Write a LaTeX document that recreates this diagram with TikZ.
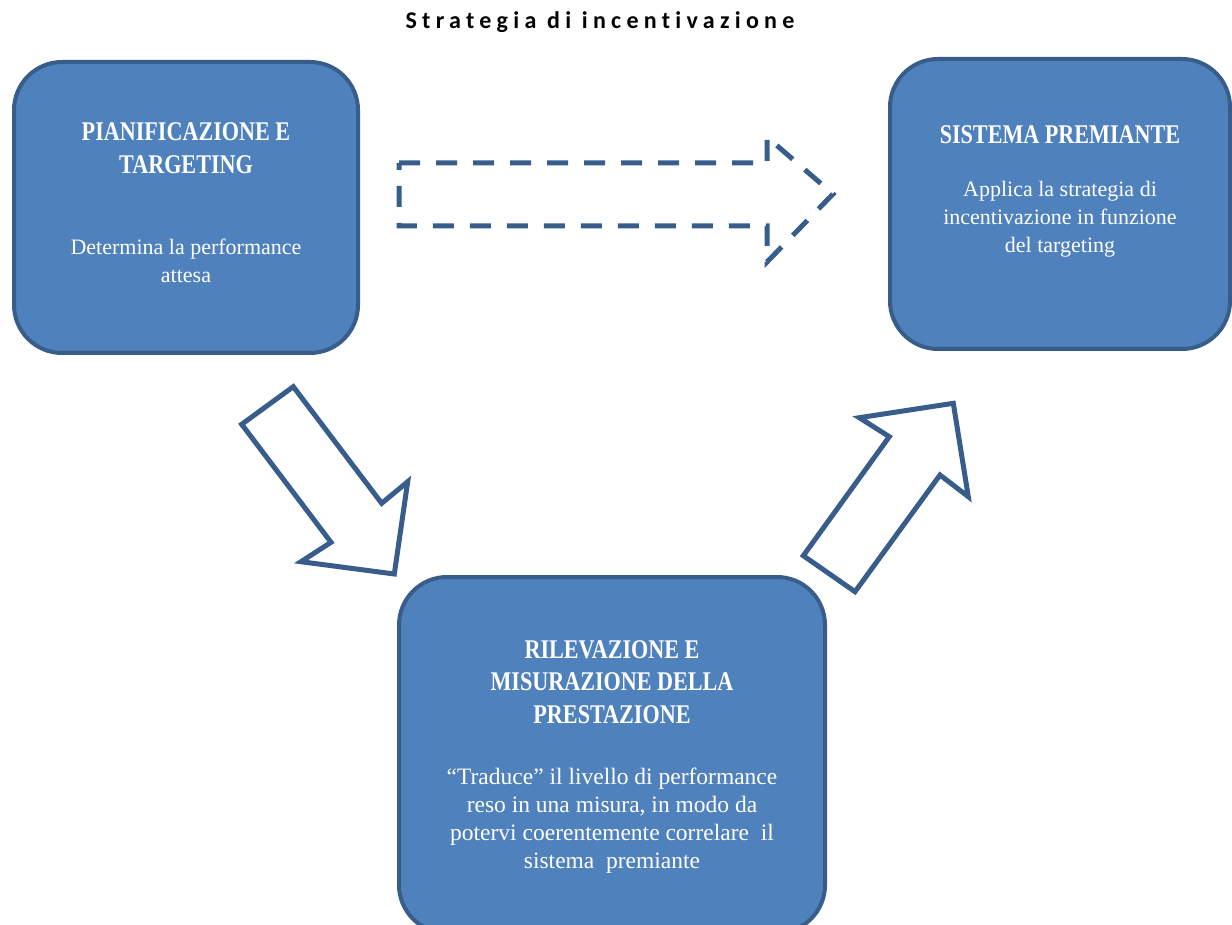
\documentclass[tikz,border=0pt]{standalone}
\usepackage{fontspec}
\newfontfamily\titlefont[LetterSpace=22,Ligatures=NoCommon]{Carlito}
\newfontfamily\boxfont{Liberation Serif}
\newfontfamily\headfont[FakeStretch=0.82]{Liberation Serif}
\usetikzlibrary{positioning}
\definecolor{boxfill}{HTML}{4F81BD}
\definecolor{boxline}{HTML}{385D8A}
\tikzstyle{stagebox}=[draw=boxline,fill=boxfill,line width=4pt,rounded corners=48pt,inner sep=0pt]
\tikzstyle{heading}=[text=white,align=center,font=\headfont\bfseries\fontsize{27}{32.5}\selectfont]
\tikzstyle{caption}=[text=white,align=center,font=\boxfont\fontsize{22}{28}\selectfont]
\tikzstyle{blockarrow}=[draw=boxline,fill=white,line width=5pt,line join=miter]
\tikzstyle{dashedarrow}=[draw=boxline,line width=5pt,dash pattern=on 21pt off 16pt]

\begin{document}
\begin{tikzpicture}[x=1pt,y=-1pt]
    \useasboundingbox (0,0) rectangle (1232,925);
    % Title on top
    \node[font=\titlefont\bfseries\fontsize{24}{28}\selectfont] (title) at (600,22) {Strategia di incentivazione};

    % First we draw the three stages
    \foreach \pos/\name/\w/\h in {{(186,207.5)/plan/344/291}, {(1060,204)/reward/340/290}, {(612,755)/measure/426/356}}
        \node[stagebox,minimum width=\w pt,minimum height=\h pt] (\name) at \pos {};

    % Then the texts inside them
    \node[heading] (planhead) at (186,148) {PIANIFICAZIONE E\\TARGETING};
    \node[caption] (plantext) at (186,261) {Determina la performance\\attesa};
    \node[heading] (rewardhead) at (1060,135) {SISTEMA PREMIANTE};
    \node[caption] (rewardtext) at (1060,219) {Applica la strategia di\\incentivazione in funzione\\del targeting};
    \node[heading] (measurehead) at (612,682) {RILEVAZIONE E\\MISURAZIONE DELLA\\PRESTAZIONE};
    \node[caption,font=\boxfont\fontsize{23.5}{28}\selectfont] (measuretext) at (612,821) {“Traduce” il livello di performance\\reso in una misura, in modo da\\potervi coerentemente correlare\ \ il\\sistema\ \ premiante};

    % Block arrows between the stages
    \path[dashedarrow] (399,163) -- (767,163) -- (767,137) -- (833,194) -- (767,262) -- (767,226) -- (399,226) -- cycle;
    \path[blockarrow] (241.7,424.3) -- (293.3,386.7) -- (381.7,503.3) -- (407.7,481.7) -- (394.3,574) -- (301,561.7) -- (331,542.3) -- cycle;
    \path[blockarrow] (803.3,555.7) -- (889.3,436.7) -- (859.3,417.7) -- (953.3,403.3) -- (968.3,496.7) -- (940,475) -- (855,591.7) -- cycle;
\end{tikzpicture}
\end{document}
